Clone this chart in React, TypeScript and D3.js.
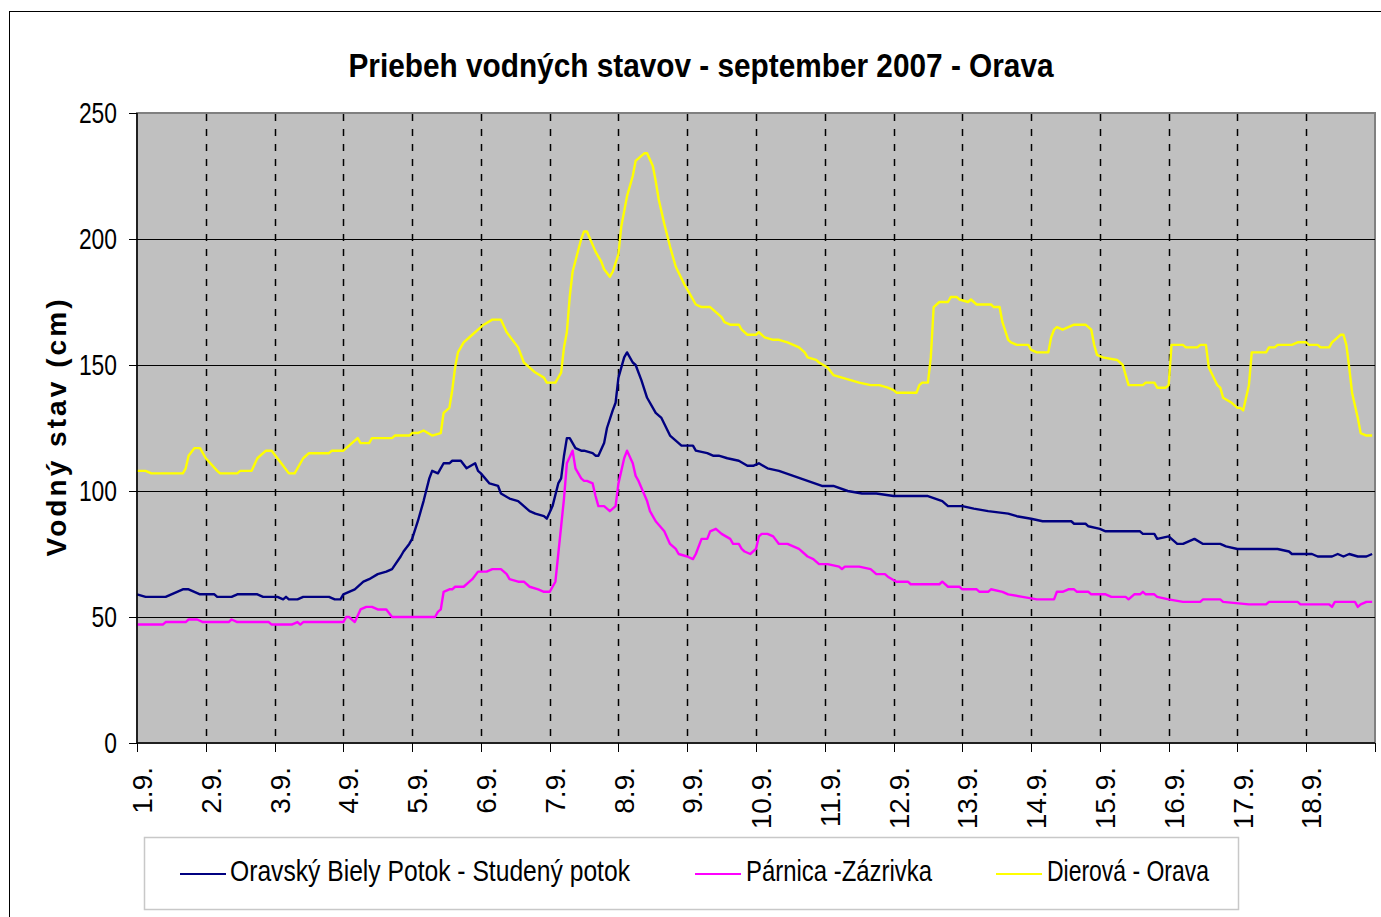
import React from "react";
import * as d3 from "d3";

// Time in hours since 1.9. 00:00, water level in cm
const bielyPotok: [number, number][] = [
  [0,59],[3,58],[10,58],[12,59],[14,60],[16,61],[18,61],[20,60],[22,59],[27,59],[28,58],[33,58],[35,59],[42,59],[44,58],[49,58],[51,57],[52,58],[53,57],[56,57],[58,58],[67,58],[69,57],[71,57],[72,59],[74,60],[76,61],[79,64],[81,65],[84,67],[87,68],[89,69],[92,74],[93,76],[95,79],[96,81],[98,88],[100,96],[102,105],[103,108],[105,107],[107,111],[109,111],[110,112],[113,112],[115,109],[118,111],[119,108],[120,107],[123,103],[126,102],[127,99],[130,97],[133,96],[135,94],[137,92],[139,91],[142,90],[143,89],[145,94],[147,103],[148,105],[149,114],[150,121],[151,121],[153,117],[155,116],[156,116],[159,115],[160,114],[161,114],[163,119],[164,125],[166,132],[167,135],[168,145],[170,153],[171,155],[173,151],[174,150],[176,144],[178,137],[181,131],[183,129],[186,122],[188,120],[190,118],[194,118],[195,116],[199,115],[201,114],[203,114],[206,113],[210,112],[213,110],[215,110],[217,111],[220,109],[224,108],[229,106],[234,104],[239,102],[243,102],[248,100],[253,99],[258,99],[264,98],[270,98],[276,98],[281,96],[283,94],[288,94],[292,93],[297,92],[304,91],[307,90],[312,89],[316,88],[326,88],[327,87],[331,87],[332,86],[336,85],[338,84],[350,84],[351,83],[355,83],[356,81],[360,82],[363,79],[365,79],[369,81],[372,79],[378,79],[380,78],[384,77],[396,77],[398,77],[402,76],[403,75],[410,75],[412,74],[417,74],[419,75],[421,74],[423,75],[426,74],[429,74],[431,75]
];

const parnica: [number, number][] = [
  [0,47],[9,47],[10,48],[17,48],[18,49],[21,49],[23,48],[32,48],[33,49],[35,48],[46,48],[47,47],[54,47],[56,48],[57,47],[58,48],[72,48],[73,50],[74,50],[76,48],[78,53],[80,54],[82,54],[84,53],[87,53],[89,50],[104,50],[105,52],[106,53],[107,60],[109,61],[110,61],[111,62],[114,62],[116,64],[117,65],[119,68],[122,68],[124,69],[127,69],[129,67],[130,65],[133,64],[135,64],[137,62],[140,61],[142,60],[144,60],[146,64],[148,86],[149,97],[150,111],[152,116],[153,109],[155,105],[156,104],[157,104],[159,103],[160,98],[161,94],[163,94],[165,92],[167,94],[168,103],[170,113],[171,116],[173,111],[174,106],[175,104],[178,96],[179,92],[181,88],[184,84],[186,79],[188,77],[189,75],[192,74],[194,73],[195,75],[197,81],[199,81],[200,84],[202,85],[204,83],[207,81],[208,79],[210,79],[211,77],[212,76],[214,75],[216,77],[217,82],[218,83],[220,83],[222,82],[224,79],[227,79],[229,78],[231,77],[234,74],[236,73],[238,71],[241,71],[245,70],[246,69],[247,70],[252,70],[256,69],[258,67],[261,67],[262,66],[265,64],[269,64],[270,63],[280,63],[281,64],[283,62],[287,62],[288,61],[293,61],[294,60],[297,60],[298,61],[302,60],[304,59],[309,58],[314,57],[320,57],[321,60],[323,60],[325,61],[327,61],[328,60],[332,60],[333,59],[338,59],[340,58],[345,58],[346,57],[348,59],[350,59],[351,60],[352,59],[355,59],[356,58],[360,57],[365,56],[371,56],[372,57],[378,57],[379,56],[388,55],[394,55],[395,56],[405,56],[406,55],[416,55],[417,54],[418,56],[425,56],[426,54],[427,55],[429,56],[431,56]
];

const dierova: [number, number][] = [
  [0,108],[3,108],[5,107],[16,107],[17,109],[18,114],[20,117],[22,117],[24,113],[28,108],[29,107],[35,107],[36,108],[40,108],[42,113],[45,116],[47,116],[49,113],[51,110],[53,107],[55,107],[58,113],[60,115],[67,115],[68,116],[72,116],[74,118],[77,121],[78,119],[81,119],[82,121],[89,121],[90,122],[95,122],[96,123],[98,123],[100,124],[103,122],[106,123],[107,131],[109,133],[110,140],[111,149],[112,155],[114,159],[117,162],[119,164],[121,166],[124,168],[127,168],[129,163],[133,157],[135,151],[139,147],[142,145],[143,143],[146,143],[148,147],[149,157],[150,163],[151,177],[152,187],[155,200],[156,203],[157,203],[160,195],[162,191],[163,188],[165,185],[166,187],[168,194],[169,205],[171,217],[173,225],[174,231],[177,234],[178,234],[180,229],[181,223],[182,216],[184,206],[186,197],[188,189],[191,182],[193,178],[195,174],[197,173],[200,173],[202,171],[204,169],[205,167],[207,166],[210,166],[211,164],[213,162],[216,162],[217,163],[219,161],[222,160],[224,160],[227,159],[229,158],[231,157],[233,155],[234,153],[237,152],[238,151],[241,149],[243,146],[246,145],[249,144],[252,143],[256,142],[259,142],[262,141],[264,140],[265,139],[272,139],[273,142],[274,143],[276,143],[277,153],[278,173],[280,175],[283,175],[284,177],[286,177],[287,176],[290,175],[291,176],[293,174],[298,174],[299,173],[301,173],[302,167],[304,160],[305,159],[307,158],[311,158],[312,156],[314,155],[318,155],[319,161],[320,164],[321,165],[323,164],[325,165],[327,166],[328,166],[331,166],[333,164],[334,158],[335,154],[337,153],[342,152],[344,150],[345,146],[346,142],[351,142],[352,143],[355,143],[356,141],[359,141],[360,142],[361,158],[365,158],[366,157],[370,157],[371,158],[373,158],[374,149],[377,142],[378,141],[379,137],[382,135],[384,133],[385,133],[386,132],[388,142],[389,155],[394,155],[395,157],[397,157],[398,158],[403,158],[405,159],[408,159],[409,158],[412,158],[413,157],[416,157],[417,159],[419,161],[420,162],[421,162],[422,158],[423,149],[424,139],[426,129],[427,123],[429,122],[431,122]
];

const dayLabels = ["1.9.","2.9.","3.9.","4.9.","5.9.","6.9.","7.9.","8.9.","9.9.","10.9.","11.9.","12.9.","13.9.","14.9.","15.9.","16.9.","17.9.","18.9."];
const yTicks = [0, 50, 100, 150, 200, 250];
const seriesNames = ["Oravský Biely Potok - Studený potok", "Párnica -Zázrivka", "Dierová - Orava"];
const seriesColors = ["#000080", "#FF00FF", "#FFFF00"];
const title = "Priebeh vodných stavov - september 2007 - Orava";
const yTitle = "Vodný stav (cm)";

const FONT = "'Liberation Sans', Arial, sans-serif";

export default function App() {
  const left = 137, right = 1375, top = 113, bottom = 743;
  const x = d3.scaleLinear().domain([0, 18 * 24]).range([left, right]);
  const y = d3.scaleLinear().domain([0, 250]).range([bottom, top]);
  const line = d3.line<[number, number]>().x(d => x(d[0])).y(d => y(d[1]));
  const series = [bielyPotok, parnica, dierova];
  const dayTicks = d3.range(0, 19);
  const px = (v: number) => Math.round(v) + 0.5;

  const legendItems = [
    { lx: 180, tx: 230, tw: 400 },
    { lx: 695, tx: 746, tw: 186 },
    { lx: 996, tx: 1047, tw: 162 },
  ];

  return (
    <svg width={1381} height={917} style={{ position: "absolute", left: 0, top: 0, background: "#fff" }} fontFamily={FONT}>
      <rect x={9.5} y={11.5} width={1400} height={950} fill="#fff" stroke="#000" strokeWidth={1} />
      <text x={701} y={77} textAnchor="middle" fontSize={34} fontWeight="bold" textLength={705} lengthAdjust="spacingAndGlyphs">{title}</text>

      {/* plot area */}
      <rect x={left} y={top} width={right - left} height={bottom - top} fill="#C0C0C0" stroke="#808080" strokeWidth={2} />
      {/* vertical dashed grid */}
      {dayTicks.slice(1, 18).map(d => (
        <line key={"v" + d} x1={px(x(d * 24))} x2={px(x(d * 24))} y1={top + 1} y2={bottom} stroke="#000" strokeWidth={1.5} strokeDasharray="7,8" />
      ))}
      {/* horizontal grid */}
      {yTicks.slice(1, 5).map(v => (
        <line key={"h" + v} x1={left} x2={right} y1={px(y(v))} y2={px(y(v))} stroke="#000" strokeWidth={1} />
      ))}

      {/* series */}
      {series.map((s, i) => (
        <path key={"s" + i} d={line(s) || ""} fill="none" stroke={seriesColors[i]} strokeWidth={2.4} strokeLinejoin="round" />
      ))}

      {/* axes */}
      <line x1={left} x2={left} y1={top} y2={bottom} stroke="#000" strokeWidth={1.5} />
      <line x1={left} x2={right} y1={bottom} y2={bottom} stroke="#000" strokeWidth={1.5} />
      {yTicks.map(v => (
        <g key={"yt" + v}>
          <line x1={left - 8} x2={left} y1={px(y(v))} y2={px(y(v))} stroke="#000" strokeWidth={1} />
          <text x={117} y={y(v)} dy="0.36em" textAnchor="end" fontSize={29} textLength={String(v).length * 12.7} lengthAdjust="spacingAndGlyphs">{v}</text>
        </g>
      ))}
      {dayTicks.map(d => (
        <line key={"xt" + d} x1={px(x(d * 24))} x2={px(x(d * 24))} y1={bottom} y2={bottom + 9} stroke="#000" strokeWidth={1} />
      ))}
      {dayLabels.map((lab, i) => (
        <text key={"xl" + i} transform={`translate(${x(i * 24) + 5},767) rotate(-90)`} dy="0.36em" textAnchor="end" fontSize={28}>{lab}</text>
      ))}

      {/* y title */}
      <text transform="translate(56,428) rotate(-90)" dy="0.36em" textAnchor="middle" fontSize={28} fontWeight="bold" textLength={257} lengthAdjust="spacing">{yTitle}</text>

      {/* legend */}
      <rect x={144.5} y={837.5} width={1094} height={72} fill="#fff" stroke="#C8C8C8" strokeWidth={1.5} />
      {legendItems.map((it, i) => (
        <g key={"lg" + i}>
          <line x1={it.lx} x2={it.lx + 46} y1={874} y2={874} stroke={seriesColors[i]} strokeWidth={2} />
          <text x={it.tx} y={881} fontSize={30} textLength={it.tw} lengthAdjust="spacingAndGlyphs">{seriesNames[i]}</text>
        </g>
      ))}
    </svg>
  );
}
